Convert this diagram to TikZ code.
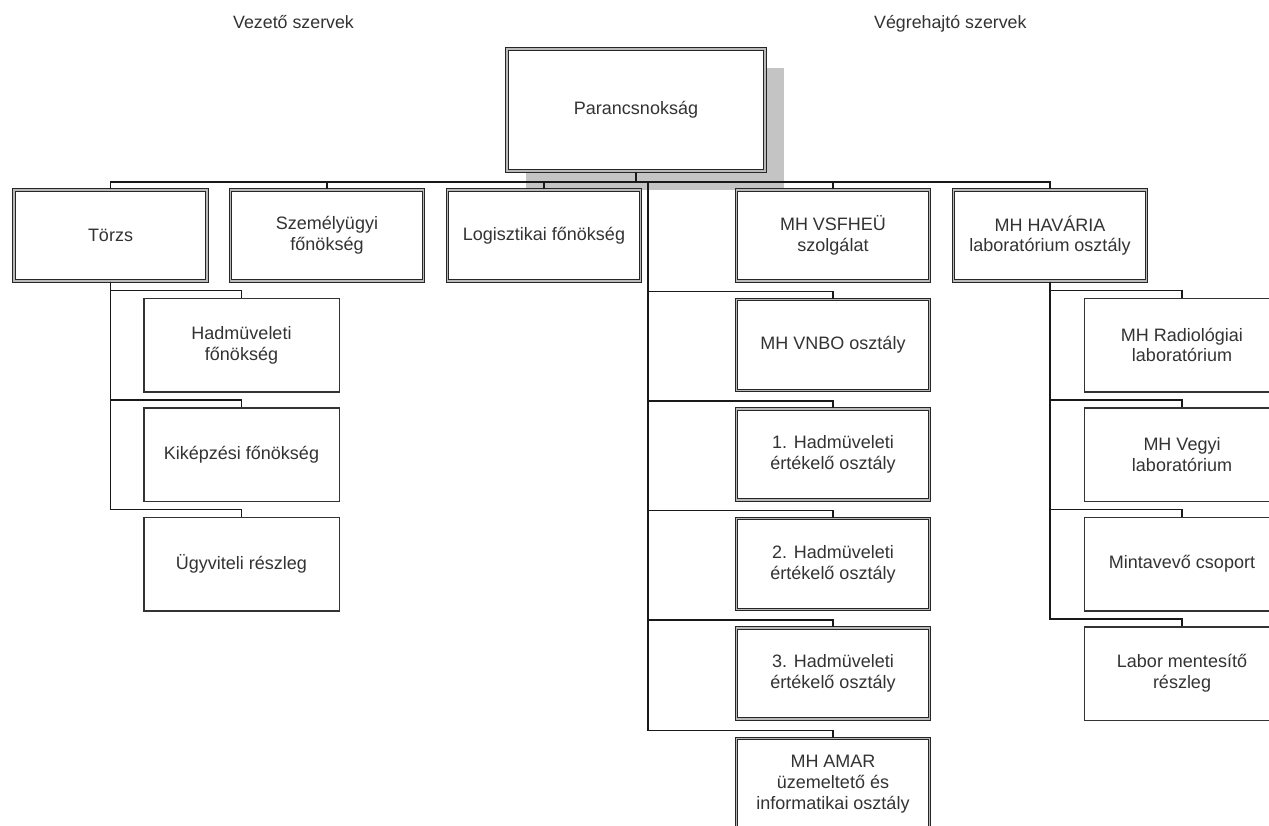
\documentclass[tikz,border=0pt]{standalone}
\usepackage{fontspec}
\setmainfont{Liberation Sans}
\usetikzlibrary{shadows,calc}
\definecolor{txt}{HTML}{333333}
\tikzset{
  box/.style={rectangle, inner sep=0pt, align=center, text=txt,
    font=\fontsize{18}{20.7}\selectfont, fill=white},
  dbl/.style={box, draw=black!85, line width=1.1pt, double=gray!55,
    double distance=1.6pt, minimum width=193pt, minimum height=91pt},
  sgl/.style={box, draw=black!80, line width=1.5pt,
    minimum width=195.5pt, minimum height=93.5pt},
  conn/.style={draw=black!90, line width=1.6pt},
  hdr/.style={text=txt, font=\fontsize{17.8}{20}\selectfont, inner sep=0pt, anchor=base west},
}
\begin{document}
\begin{tikzpicture}[x=1pt, y=-1pt]
\useasboundingbox (0,0) rectangle (1269,825);
\clip (0,0) rectangle (1269,825);
\fill[white] (0,0) rectangle (1269,825);

% headers
\node[hdr] (h1) at (233,28) {Vezető szervek};
\node[hdr] (h2) at (874,28) {Végrehajtó szervek};

% top
\node[dbl, minimum width=258pt, minimum height=122pt,
  drop shadow={shadow xshift=19pt, shadow yshift=-19pt, fill=black!23, opacity=1}]
  (par) at (636,110) {Parancsnokság};

% row 1
\node[dbl] (torzs) at (110.5,235.5) {Törzs};
\node[dbl] (szem) at (327,235.5) {Személyügyi\\főnökség};
\node[dbl] (log) at (544,235.5) {Logisztikai főnökség};
\node[dbl] (vsf) at (833,235.5) {MH VSFHEÜ\\szolgálat};
\node[dbl] (hav) at (1050,235.5) {MH HAVÁRIA\\laboratórium osztály};

% Törzs children
\node[sgl] (had) at (241.5,345) {Hadmüveleti\\főnökség};
\node[sgl] (kik) at (241.5,454.5) {Kiképzési főnökség};
\node[sgl] (ugy) at (241.5,564) {Ügyviteli részleg};

% executive column
\node[dbl] (vnbo) at (833,345) {MH VNBO osztály};
\node[dbl] (e1) at (833,454.5) {1. Hadmüveleti\\értékelő osztály};
\node[dbl] (e2) at (833,564) {2. Hadmüveleti\\értékelő osztály};
\node[dbl] (e3) at (833,673.5) {3. Hadmüveleti\\értékelő osztály};
\node[dbl] (amar) at (833,784) {MH AMAR\\üzemeltető és\\informatikai osztály};

% HAVÁRIA children
\node[sgl] (rad) at (1182,345) {MH Radiológiai\\laboratórium};
\node[sgl] (veg) at (1182,454.5) {MH Vegyi\\laboratórium};
\node[sgl] (min) at (1182,564) {Mintavevő csoport};
\node[sgl] (lab) at (1182,673.5) {Labor mentesítő\\részleg};

% connectors
\coordinate (bus) at (0,182);
\coordinate (trunk) at (648,182);
\draw[conn] (par.south) -- (par.south |- bus);
\draw[conn] (torzs.north) |- (hav.north |- bus) -- (hav.north);
\draw[conn] (szem.north) -- (szem.north |- bus);
\draw[conn] (log.north) -- (log.north |- bus);
\draw[conn] (vsf.north) -- (vsf.north |- bus);

\foreach \c in {had,kik,ugy}
  \draw[conn] (torzs.south) |- ($(\c.north)+(0,-7)$) -- (\c.north);
\foreach \c in {vnbo,e1,e2,e3,amar}
  \draw[conn] (trunk) |- ($(\c.north)+(0,-7.5)$) -- (\c.north);
\foreach \c in {rad,veg,min,lab}
  \draw[conn] (hav.south) |- ($(\c.north)+(0,-7)$) -- (\c.north);
\end{tikzpicture}
\end{document}
